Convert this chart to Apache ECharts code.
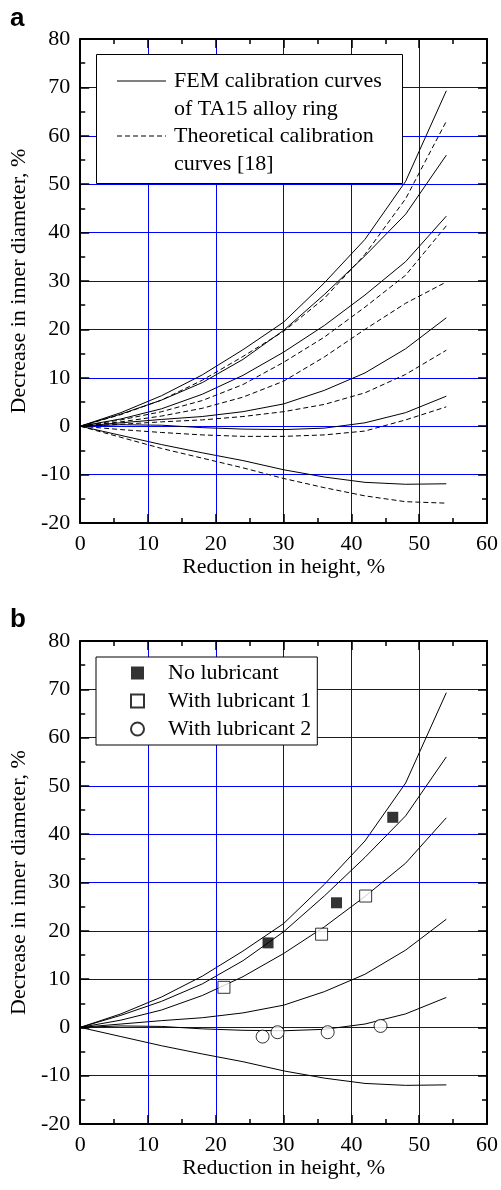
<!DOCTYPE html>
<html>
<head>
<meta charset="utf-8">
<script src="https://cdn.jsdelivr.net/npm/echarts@6/dist/echarts.min.js"></script>
<style>
  html, body { margin: 0; padding: 0; background: #fff; }
  #chart { width: 501px; height: 1190px; }
</style>
</head>
<body>
<div id="chart"></div>
<script>
// reduction in height, % (FEM / theory nodes)
const xNodes = [0, 6, 12, 18, 24, 30, 36, 42, 48, 54];

// FEM calibration curves of TA15 ring (solid)
const fem01 = [0, -1.9, -3.8, -5.5, -7.1, -9.0, -10.5, -11.6, -12.0, -11.9];
const fem02 = [0, 0.3, 0.2, -0.3, -0.6, -0.7, -0.4, 0.7, 2.8, 6.2];
const fem03 = [0, 0.7, 1.4, 2.0, 3.0, 4.6, 7.4, 11.0, 16.0, 22.4];
const fem05 = [0, 1.5, 3.6, 6.6, 10.5, 15.3, 20.8, 27.1, 34.0, 43.4];
const fem07 = [0, 2.5, 5.4, 9.0, 13.8, 19.8, 27.2, 35.2, 43.8, 56.0];
const fem10 = [0, 2.8, 6.3, 10.6, 15.8, 21.5, 29.6, 38.6, 50.6, 69.3];

// theoretical calibration curves [18] (dashed)
const th01 = [0, -2.3, -4.6, -6.6, -8.6, -10.8, -12.7, -14.4, -15.6, -15.9];
const th02 = [0, -0.7, -1.3, -1.8, -2.1, -2.1, -1.8, -1.0, 1.3, 4.0];
const th03 = [0, 0.4, 0.9, 1.3, 2.0, 3.0, 4.5, 6.9, 10.7, 15.7];
const th05 = [0, 0.9, 2.1, 3.7, 6.0, 9.3, 14.3, 20.0, 25.4, 29.8];
const th07 = [0, 1.3, 3.0, 5.3, 8.6, 13.2, 18.4, 24.6, 31.2, 41.4];
const th10 = [0, 2.4, 5.4, 9.5, 14.4, 19.6, 26.4, 35.5, 47.0, 63.0];

// experiments (panel b)
const noLubX = [27.7, 37.8, 46.1];
const noLubY = [17.5, 25.8, 43.5];
const lub1X = [21.2, 35.6, 42.1];
const lub1Y = [8.3, 19.3, 27.2];
const lub2X = [26.9, 29.1, 36.5, 44.3];
const lub2Y = [-1.9, -1.0, -1.0, 0.3];

// curve labels
const mNames = ['m=1.0', 'm=0.7', 'm=0.5', 'm=0.3', 'm=0.2', 'm=0.1'];
const mLabelX = 50.4;
const mLabelY = [64.9, 52.3, 36.2, 17.1, 2.3, -15.3];

const femNames = 'FEM calibration curves';
const thNames = 'Theoretical calibration';

const font = '"Liberation Serif", "Times New Roman", serif';
const zip = (xs, ys) => xs.map((x, i) => [x, ys[i]]);

const chart = echarts.init(document.getElementById('chart'), null, { renderer: 'canvas' });

const grids = [
    { left: 79, top: 39, width: 411, height: 484 },
    { left: 79, top: 641, width: 411, height: 483 }
];

function xAxes(g) {
    const base = {
        type: 'value', gridIndex: g, min: 0, max: 60, interval: 10,
        axisLine: { show: true, onZero: false, lineStyle: { color: '#000', width: 2 } },
        axisTick: { show: true, inside: true, length: 9, lineStyle: { color: '#000', width: 1.5 } },
        minorTick: { show: true, splitNumber: 2, length: 5, lineStyle: { color: '#000', width: 1.5 } }
    };
    return [
        Object.assign({}, base, {
            position: 'bottom',
            name: 'Reduction in height, %', nameLocation: 'middle', nameGap: 30,
            nameTextStyle: { fontFamily: font, fontSize: 22, color: '#000' },
            axisLabel: { fontFamily: font, fontSize: 22, color: '#000', margin: 10 },
            splitLine: { show: true, lineStyle: { color: '#0000ff', width: 1 } }
        }),
        Object.assign({}, base, {
            position: 'top', axisLabel: { show: false }, splitLine: { show: false }
        })
    ];
}

function yAxes(g) {
    const base = {
        type: 'value', gridIndex: g, min: -20, max: 80, interval: 10,
        axisLine: { show: true, onZero: false, lineStyle: { color: '#000', width: 2 } },
        axisTick: { show: true, inside: true, length: 9, lineStyle: { color: '#000', width: 1.5 } },
        minorTick: { show: true, splitNumber: 2, length: 5, lineStyle: { color: '#000', width: 1.5 } }
    };
    return [
        Object.assign({}, base, {
            position: 'left',
            name: 'Decrease in inner diameter, %', nameLocation: 'middle', nameGap: 48,
            nameTextStyle: { fontFamily: font, fontSize: 22, color: '#000' },
            axisLabel: { fontFamily: font, fontSize: 22, color: '#000', margin: 10 },
            splitLine: { show: true, lineStyle: { color: '#0000ff', width: 1 } }
        }),
        Object.assign({}, base, {
            position: 'right', axisLabel: { show: false }, splitLine: { show: false }
        })
    ];
}

function curve(name, ys, axisIdx, dashed) {
    return {
        name: name, type: 'line', xAxisIndex: axisIdx, yAxisIndex: axisIdx,
        data: zip(xNodes, ys), symbol: 'none', smooth: false, silent: true,
        lineStyle: { color: '#000', width: 1, type: dashed ? [5, 3] : 'solid' },
        z: 3
    };
}

function labelSeries(axisIdx) {
    return {
        type: 'scatter', xAxisIndex: axisIdx, yAxisIndex: axisIdx, symbol: 'none', silent: true,
        data: mLabelY.map(y => [mLabelX, y]),
        label: {
            show: true, position: 'inside', align: 'left', verticalAlign: 'middle',
            fontFamily: font, fontSize: 22, color: '#000',
            formatter: p => mNames[p.dataIndex]
        },
        z: 4
    };
}

const femSet = [fem10, fem07, fem05, fem03, fem02, fem01];
const thSet = [th10, th07, th05, th03, th02, th01];

const series = [];
femSet.forEach(ys => series.push(curve(femNames, ys, 0, false)));
thSet.forEach(ys => series.push(curve(thNames, ys, 0, true)));
series.push(labelSeries(0));
femSet.forEach(ys => series.push(curve(femNames, ys, 2, false)));
series.push(labelSeries(2));

series.push({
    name: 'No lubricant', type: 'scatter', xAxisIndex: 2, yAxisIndex: 2,
    data: zip(noLubX, noLubY), symbol: 'rect', symbolSize: 11,
    itemStyle: { color: '#000' }, z: 5
});
series.push({
    name: 'With lubricant 1', type: 'scatter', xAxisIndex: 2, yAxisIndex: 2,
    data: zip(lub1X, lub1Y), symbol: 'rect', symbolSize: 12,
    itemStyle: { color: '#fff', borderColor: '#000', borderWidth: 1 }, z: 5
});
series.push({
    name: 'With lubricant 2', type: 'scatter', xAxisIndex: 2, yAxisIndex: 2,
    data: zip(lub2X, lub2Y), symbol: 'circle', symbolSize: 13,
    itemStyle: { color: '#fff', borderColor: '#000', borderWidth: 1 }, z: 5
});

const option = {
    backgroundColor: '#fff',
    animation: false,
    grid: grids,
    xAxis: xAxes(0).concat(xAxes(1)),
    yAxis: yAxes(0).concat(yAxes(1)),
    legend: {
        data: ['No lubricant', 'With lubricant 1', 'With lubricant 2'],
        orient: 'vertical', left: 96, top: 657,
        padding: [5, 6, 5, 34], itemGap: 6,
        itemWidth: 13, itemHeight: 13,
        backgroundColor: '#fff', borderColor: '#000', borderWidth: 1,
        selectedMode: false,
        textStyle: { fontFamily: font, fontSize: 22, color: '#000', padding: [0, 0, 0, 19] }
    },
    graphic: [
        { type: 'text', left: 10, top: 6, style: { text: 'a', font: 'bold 26px "Liberation Sans", Arial, sans-serif', fill: '#000' } },
        { type: 'text', left: 10, top: 607, style: { text: 'b', font: 'bold 26px "Liberation Sans", Arial, sans-serif', fill: '#000' } },
        // legend of panel a
        { type: 'rect', shape: { x: 96.5, y: 54.5, width: 306, height: 129 }, style: { fill: '#fff', stroke: '#000', lineWidth: 1 }, z: 10 },
        { type: 'line', shape: { x1: 117, y1: 81, x2: 166, y2: 81 }, style: { stroke: '#000', lineWidth: 1 }, z: 11 },
        { type: 'line', shape: { x1: 117, y1: 136, x2: 166, y2: 136 }, style: { stroke: '#000', lineWidth: 1, lineDash: [5, 3] }, z: 11 },
        { type: 'text', x: 174, y: 81, style: { text: 'FEM calibration curves', font: '22px ' + font, fill: '#000', verticalAlign: 'middle' }, z: 11 },
        { type: 'text', x: 174, y: 109, style: { text: 'of TA15 alloy ring', font: '22px ' + font, fill: '#000', verticalAlign: 'middle' }, z: 11 },
        { type: 'text', x: 174, y: 136, style: { text: 'Theoretical calibration', font: '22px ' + font, fill: '#000', verticalAlign: 'middle' }, z: 11 },
        { type: 'text', x: 174, y: 164, style: { text: 'curves [18]', font: '22px ' + font, fill: '#000', verticalAlign: 'middle' }, z: 11 }
    ],
    series: series
};

chart.setOption(option);
</script>
</body>
</html>
